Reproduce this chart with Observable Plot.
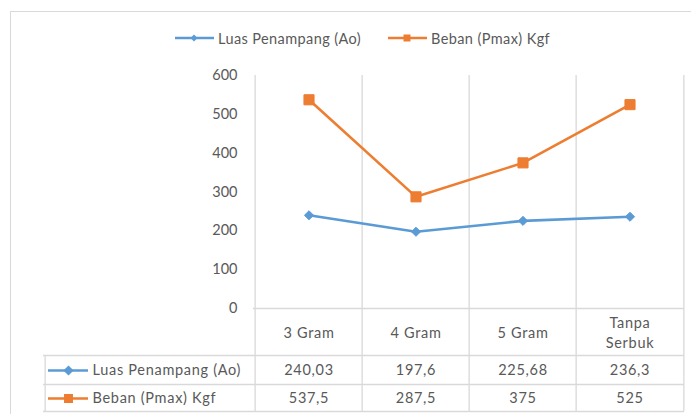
<!DOCTYPE html>
<html><head><meta charset="utf-8">
<script src="https://cdn.jsdelivr.net/npm/d3@7"></script>
<script src="https://cdn.jsdelivr.net/npm/@observablehq/plot@0.6"></script>
<style>
body{margin:0;background:#fff;font-family:Lato, sans-serif;}
#wrap{position:relative;width:691px;height:414px;overflow:hidden;}
#border{position:absolute;left:10px;top:11px;width:720px;height:440px;border:1.5px solid #d9d9d9;box-sizing:border-box;}
#legend{position:relative;height:55px;}
.item{position:absolute;top:29px;height:18px;display:flex;align-items:center;font-size:14.5px;color:#595959;white-space:nowrap;letter-spacing:0.4px;}
.item svg{margin-right:4px}
#chart{position:relative}
#chart svg{overflow:visible}
#chart g[aria-label="text"] text{letter-spacing:0.7px}
</style></head><body>
<div id="wrap"><div id="border"></div><div id="legend"></div><div id="chart"></div></div>
<script>
const categories = ["3 Gram", "4 Gram", "5 Gram", "Tanpa\nSerbuk"];
const seriesNames = ["Luas Penampang (Ao)", "Beban (Pmax) Kgf"];
const luas = [240.03, 197.6, 225.68, 236.3];
const beban = [537.5, 287.5, 375, 525];
const yTicks = [0, 100, 200, 300, 400, 500, 600];

const W = 691, H = 359, mL = 253, mR = 7, mT = 20, mB = 106;
const bw = (W - mL - mR) / categories.length;
const grid = "#d9d9d9", txt = "#595959", blue = "#5b9bd5", orange = "#ed7d31";
const fmt = v => String(v).replace(".", ",");
const tableLeft = 43;
const rowDy = [62, 90];
const colors = [blue, orange];
const symbols = ["diamond2", "square"];
const series = [luas, beban];

// legend
const legend = document.getElementById("legend");
const legendX = [175, 388];
seriesNames.forEach((name, k) => {
  const div = document.createElement("div");
  div.className = "item";
  div.style.left = legendX[k] + "px";
  const mk = k === 0
    ? `<path d="M19,5.5 L22.5,9 L19,12.5 L15.5,9 Z" fill="${blue}"/>`
    : `<rect x="15.5" y="5.5" width="7" height="7" fill="${orange}"/>`;
  div.innerHTML = `<svg width="39" height="18"><line x1="0" x2="39" y1="9" y2="9" stroke="${colors[k]}" stroke-width="2.5"/>${mk}</svg><span>${name}</span>`;
  legend.appendChild(div);
});

const marks = [
  Plot.ruleX(categories, {x: d => d, dx: -bw / 2, stroke: grid, strokeWidth: 1.3, insetBottom: -103}),
  Plot.ruleX([categories[categories.length - 1]], {x: d => d, dx: bw / 2, stroke: grid, strokeWidth: 1.3, insetBottom: -103}),
  Plot.ruleY([0], {stroke: grid, strokeWidth: 1.3}),
  Plot.ruleY([0], {dy: 47, insetLeft: -(mL - tableLeft), stroke: grid, strokeWidth: 1.3}),
  Plot.ruleY([0], {dy: 76, insetLeft: -(mL - tableLeft), stroke: grid, strokeWidth: 1.3}),
  Plot.ruleY([0], {dy: 103, insetLeft: -(mL - tableLeft), stroke: grid, strokeWidth: 1.3}),
  Plot.ruleX([categories[0]], {x: d => d, y1: 0, y2: 0, dx: -bw / 2 - (mL - tableLeft), insetTop: 47, insetBottom: -103, stroke: grid, strokeWidth: 1.3}),
  Plot.axisY(yTicks, {tickSize: 0, tickPadding: 16, fontSize: 14.5, fill: txt, label: null}),
  Plot.text(categories, {x: d => d, frameAnchor: "bottom", lineAnchor: "middle", dy: 23, text: d => d, lineHeight: 1.4, fill: txt, fontSize: 14.5})
];
series.forEach((vals, k) => {
  marks.push(
    Plot.line(vals, {x: (d, i) => categories[i], y: d => d, stroke: colors[k], strokeWidth: 2.6}),
    Plot.dot(vals, {x: (d, i) => categories[i], y: d => d, symbol: symbols[k], r: k ? 5.7 : 4.1, fill: colors[k], stroke: colors[k], strokeWidth: 1}),
    Plot.text(vals, {x: (d, i) => categories[i], frameAnchor: "bottom", lineAnchor: "middle", dy: rowDy[k], text: fmt, fill: txt, fontSize: 14.5}),
    Plot.text([seriesNames[k]], {frameAnchor: "bottom-left", lineAnchor: "middle", dx: 92 - mL, dy: rowDy[k], text: d => d, textAnchor: "start", fill: txt, fontSize: 14.5}),
    Plot.ruleY([0], {dy: rowDy[k], insetLeft: -(mL - 48), insetRight: (W - mR) - 88, stroke: colors[k], strokeWidth: 2.6}),
    Plot.dot([0], {frameAnchor: "bottom-left", dx: 68 - mL, dy: rowDy[k], symbol: symbols[k], r: k ? 4.2 : 3.6, fill: colors[k], stroke: colors[k]})
  );
});

const plot = Plot.plot({
  width: W, height: H, marginLeft: mL, marginRight: mR, marginTop: mT, marginBottom: mB,
  style: {fontFamily: "Lato, sans-serif", fontSize: "14.5px", color: txt, background: "transparent"},
  x: {type: "band", domain: categories, padding: 0, axis: null},
  y: {domain: [0, 600], axis: null},
  marks
});
document.getElementById("chart").appendChild(plot);
</script>
</body></html>
